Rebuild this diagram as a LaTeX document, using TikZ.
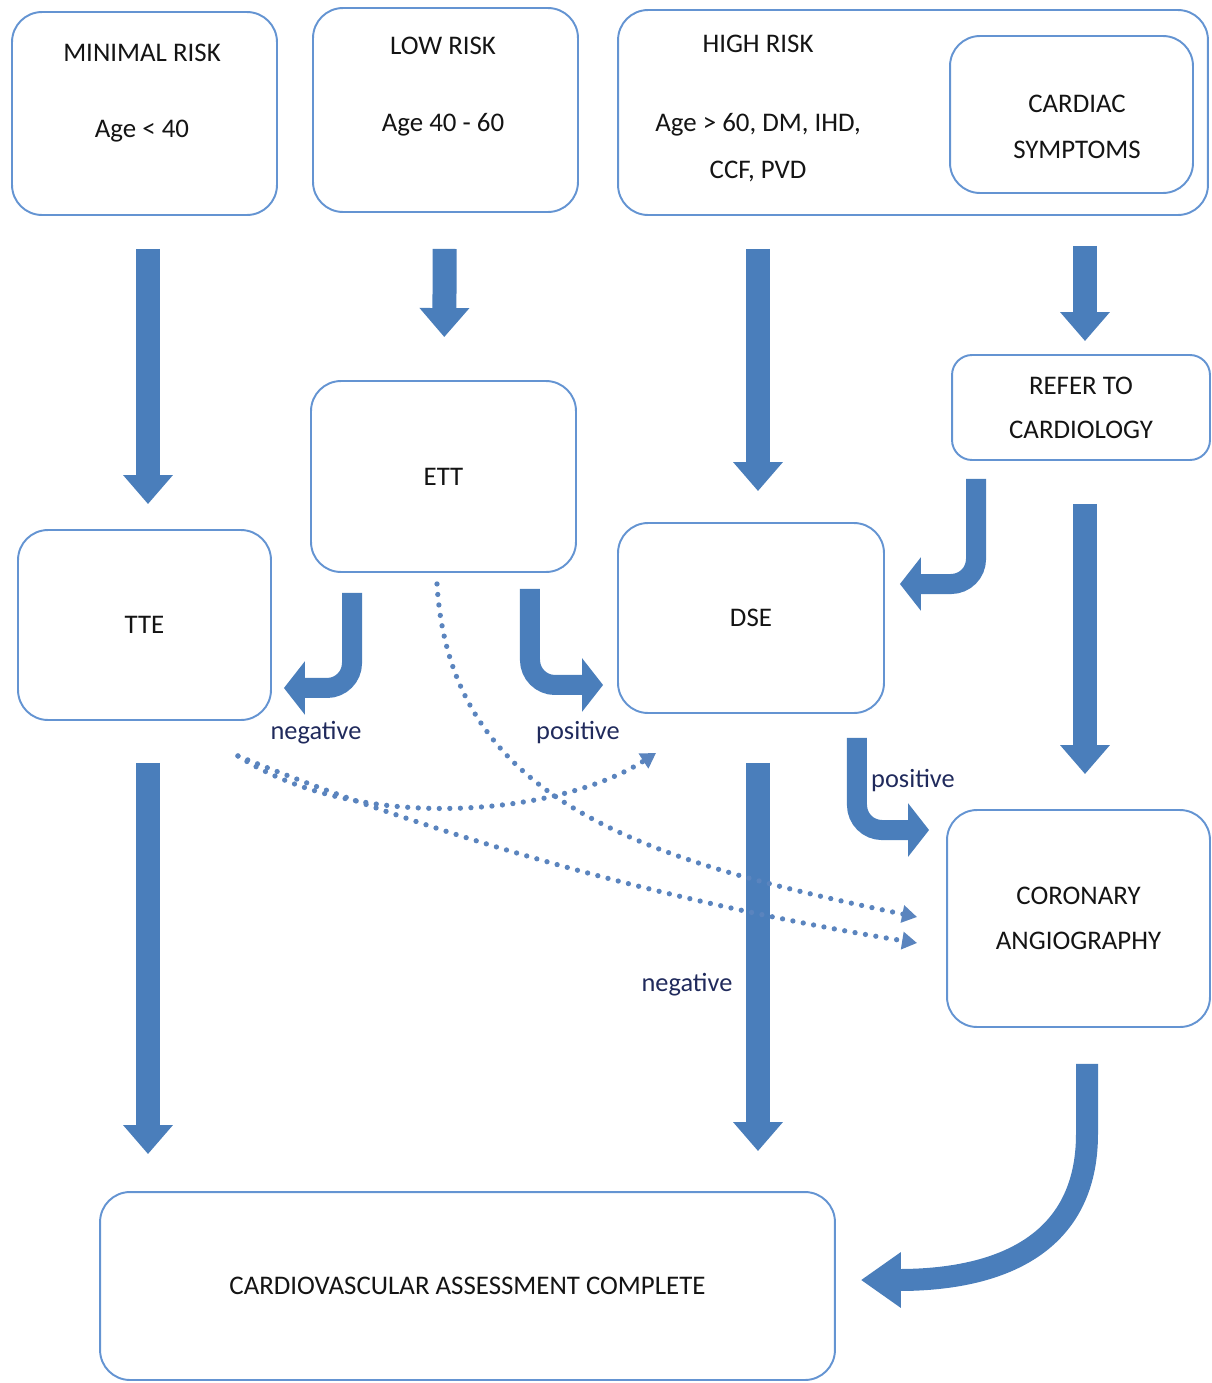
\documentclass[tikz,border=0pt]{standalone}
\usepackage{fontspec}
\setmainfont{Carlito}
\usepackage{xcolor}
\usepackage{tikz}
\usetikzlibrary{arrows.meta}

\definecolor{arrowblue}{RGB}{74,126,187}
\definecolor{boxblue}{RGB}{100,148,210}
\definecolor{dotblue}{RGB}{90,132,190}
\definecolor{labelnavy}{RGB}{32,42,92}
\definecolor{textgray}{RGB}{20,20,20}

\begin{document}
\begin{tikzpicture}[x=0.02cm, y=-0.02cm,
    flowbox/.style={draw=boxblue, line width=1.1pt, rounded corners=0.6cm, inner sep=0pt, align=center, text=textgray, font=\fontsize{15.3pt}{25pt}\selectfont},
    txt/.style={align=center, text=textgray, font=\fontsize{15.3pt}{25pt}\selectfont},
    lbl/.style={text=labelnavy, font=\fontsize{15pt}{18pt}\selectfont},
    bigarrow/.style={draw=arrowblue, line width=0.48cm, -{Triangle[width=0.96cm,length=0.58cm]}},
    bendarrow/.style={draw=arrowblue, line width=0.4cm, rounded corners=0.5cm, -{Triangle[width=1.05cm,length=0.42cm]}},
    sweeparrow/.style={draw=arrowblue, line width=0.44cm, -{Triangle[width=1.06cm,length=0.8cm]}},
    dotarrow/.style={draw=dotblue, line width=3pt, line cap=round, dash pattern=on 0pt off 6pt, -{Triangle[length=0.3cm,width=0.34cm]}}]
    \useasboundingbox (0,0) rectangle (1211,1383);

    % Minimal risk
    \node[flowbox, minimum width=5.3cm, minimum height=4.06cm] (minimal) at (144.5,113.5) {};
    \node[txt] (minimal-text) at (142,93) {MINIMAL RISK\\[18pt]Age < 40};

    % Low risk
    \node[flowbox, minimum width=5.3cm, minimum height=4.08cm] (low) at (445.5,110) {};
    \node[txt] (low-text) at (443,86.5) {LOW RISK\\[19pt]Age 40 - 60};

    % High risk
    \node[flowbox, minimum width=11.8cm, minimum height=4.1cm] (high) at (913,112.5) {};
    \node[txt] (high-text) at (758,108.5) {HIGH RISK\\[20pt]Age > 60, DM, IHD,\\[2pt]CCF, PVD};
    \node[flowbox, minimum width=4.86cm, minimum height=3.14cm] (cardiac) at (1071.5,114.5) {};
    \node[txt] (cardiac-text) at (1077,127) {CARDIAC\\[1pt]SYMPTOMS};

    % Tests
    \node[flowbox, rounded corners=0.4cm, minimum width=5.16cm, minimum height=2.1cm] (refer) at (1081,407.5) {REFER TO\\CARDIOLOGY};
    \node[flowbox, minimum width=5.3cm, minimum height=3.82cm] (ett) at (443.5,476.5) {ETT};
    \node[flowbox, minimum width=5.06cm, minimum height=3.8cm] (tte) at (144.5,625) {TTE};
    \node[flowbox, minimum width=5.32cm, minimum height=3.8cm] (dse) at (751,618) {DSE};
    \node[flowbox, minimum width=5.26cm, minimum height=4.34cm] (cor) at (1078.5,918.5) {CORONARY\\[1pt]ANGIOGRAPHY};

    % Outcome
    \node[flowbox, minimum width=14.7cm, minimum height=3.76cm] (complete) at (467.5,1286) {CARDIOVASCULAR ASSESSMENT COMPLETE};

    % Arrows
    \draw[bigarrow, shorten <=0.66cm, shorten >=0.5cm] ([xshift=0.07cm]minimal.south) -- ([xshift=0.07cm]tte.north);
    \draw[bigarrow, shorten <=0.72cm, shorten >=0.86cm] (low) -- (ett);
    \draw[bigarrow, shorten <=0.66cm, shorten >=0.62cm] ([xshift=0.14cm]high.south -| dse) -- ([xshift=0.14cm]dse.north);
    \draw[bigarrow, shorten <=1.04cm, shorten >=0.26cm] ([xshift=0.08cm]cardiac.south -| refer) -- ([xshift=0.08cm]refer.north);
    \draw[bigarrow, shorten <=0.86cm, shorten >=0.7cm] ([xshift=0.08cm]refer.south) -- ([xshift=0.08cm]refer.south |- cor.north);
    \draw[bigarrow, shorten <=0.84cm, shorten >=0.74cm] ([xshift=0.07cm]tte.south) -- ([xshift=0.07cm]tte.south |- complete.north);
    \draw[bigarrow, shorten <=0.98cm, shorten >=0.8cm] ([xshift=0.14cm]dse.south) -- ([xshift=0.14cm]dse.south |- complete.north);

    \draw[bendarrow] ([xshift=-1.83cm, yshift=-0.4cm]ett.south) |- ([xshift=0.24cm, yshift=-1.26cm]tte.east);
    \draw[bendarrow] ([xshift=1.73cm, yshift=-0.32cm]ett.south) |- ([xshift=-0.28cm, yshift=-1.34cm]dse.west);
    \draw[bendarrow] ([xshift=2.12cm, yshift=-0.48cm]dse.south) |- ([xshift=-0.34cm, yshift=1.77cm]cor.west);
    \draw[bendarrow] ([xshift=-2.1cm, yshift=-0.36cm]refer.south) |- ([xshift=0.3cm, yshift=0.68cm]dse.east);
    \draw[sweeparrow] ([xshift=0.17cm, yshift=-0.72cm]cor.south) -- ++(0,70) .. controls +(0,110) and +(140,0) .. ([xshift=0.5cm, yshift=0.12cm]complete.east);

    % Dotted paths
    \coordinate (ttedot) at ([xshift=-0.68cm, yshift=-0.7cm]tte.south east);
    \draw[dotarrow] (ttedot) .. controls (360,835) and (560,815) .. ([xshift=0.78cm, yshift=-0.78cm]dse.south west);
    \draw[dotarrow] (ttedot) .. controls (420,830) and (650,900) .. ([xshift=-0.58cm, yshift=-0.49cm]cor.west);
    \draw[dotarrow] ([xshift=-0.13cm, yshift=-0.22cm]ett.south) .. controls (450,800) and (640,860) .. ([xshift=-0.58cm, yshift=0.03cm]cor.west);

    % Labels
    \node[lbl] (neg-ett) at (316,733) {negative};
    \node[lbl] (pos-ett) at (578,733) {positive};
    \node[lbl] (pos-dse) at (913,781) {positive};
    \node[lbl] (neg-dse) at (687,985) {negative};
\end{tikzpicture}
\end{document}
